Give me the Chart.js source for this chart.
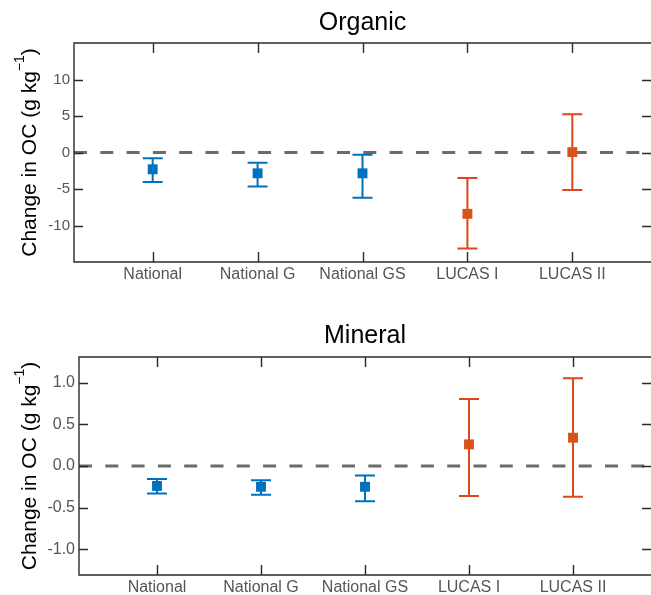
<!DOCTYPE html>
<html>
<head>
<meta charset="utf-8">
<script src="https://cdn.jsdelivr.net/npm/chart.js"></script>
<style>
  html, body { margin: 0; background: #fff; overflow: hidden; }
  canvas { display: block; }
</style>
</head>
<body>
<canvas id="organic" width="658" height="297"></canvas>
<canvas id="mineral" width="658" height="298"></canvas>
<script>
const categories = ['National', 'National G', 'National GS', 'LUCAS I', 'LUCAS II'];

const organicMean = [-2.3, -2.85, -2.85, -8.4, 0.05];
const organicLow = [-4.05, -4.65, -6.2, -13.15, -5.15];
const organicHigh = [-0.8, -1.4, -0.3, -3.5, 5.25];
const organicTicks = [-10, -5, 0, 5, 10];

const mineralMean = [-0.24, -0.25, -0.25, 0.26, 0.34];
const mineralLow = [-0.33, -0.345, -0.425, -0.36, -0.37];
const mineralHigh = [-0.155, -0.17, -0.115, 0.805, 1.055];
const mineralTicks = [-1.0, -0.5, 0.0, 0.5, 1.0];

const blue = '#0072BD';
const orange = '#D95319';
const markerColors = [blue, blue, blue, orange, orange];
const barColors = [blue, blue, blue, '#E0461C', '#E0461C'];
const font = '"Liberation Sans", Arial, sans-serif';

// error bars, zero line, box, inward ticks and titles
function decor(low, high, title, titleBase) {
    return {
        id: 'decor',
        beforeDatasetsDraw(chart) {
            const {ctx, chartArea: a, scales: {x, y}} = chart;
            ctx.save();
            ctx.beginPath();
            ctx.rect(a.left, a.top, a.right - a.left, a.bottom - a.top);
            ctx.clip();
            const y0 = y.getPixelForValue(0);
            ctx.setLineDash([13, 13.3]);
            ctx.strokeStyle = '#6b6b6b';
            ctx.lineWidth = 3;
            ctx.beginPath();
            ctx.moveTo(a.left, y0);
            ctx.lineTo(a.right, y0);
            ctx.stroke();
            ctx.setLineDash([]);
            low.forEach((lo, i) => {
                const px = x.getPixelForValue(i + 1);
                const pLo = y.getPixelForValue(lo);
                const pHi = y.getPixelForValue(high[i]);
                ctx.strokeStyle = barColors[i];
                ctx.lineWidth = 2;
                ctx.beginPath();
                ctx.moveTo(px, pLo); ctx.lineTo(px, pHi);
                ctx.moveTo(px - 10, pLo); ctx.lineTo(px + 10, pLo);
                ctx.moveTo(px - 10, pHi); ctx.lineTo(px + 10, pHi);
                ctx.stroke();
            });
            ctx.restore();
        },
        afterDraw(chart) {
            const {ctx, chartArea: a, scales: {x, y}} = chart;
            ctx.save();
            ctx.strokeStyle = '#2b2b2b';
            ctx.lineWidth = 1.4;
            // left, top, bottom sides; the right one falls just outside the window
            ctx.beginPath();
            ctx.moveTo(a.right + 2, a.top);
            ctx.lineTo(a.left, a.top);
            ctx.lineTo(a.left, a.bottom);
            ctx.lineTo(a.right + 2, a.bottom);
            ctx.stroke();
            ctx.beginPath();
            y.ticks.forEach(t => {
                const py = Math.round(y.getPixelForValue(t.value)) + 0.5;
                ctx.moveTo(a.left, py); ctx.lineTo(a.left + 9, py);
                ctx.moveTo(a.right - 9, py); ctx.lineTo(a.right, py);
            });
            x.ticks.forEach(t => {
                const px = Math.round(x.getPixelForValue(t.value)) + 0.5;
                ctx.moveTo(px, a.bottom); ctx.lineTo(px, a.bottom - 10);
                ctx.moveTo(px, a.top); ctx.lineTo(px, a.top + 10);
            });
            ctx.stroke();

            ctx.fillStyle = '#000';
            ctx.font = '25px ' + font;
            ctx.textAlign = 'center';
            ctx.textBaseline = 'alphabetic';
            ctx.fillText(title, (a.left + a.right) / 2, titleBase);

            // y axis title with superscript
            ctx.translate(36, (a.top + a.bottom) / 2);
            ctx.rotate(-Math.PI / 2);
            const main = 'Change in OC (g kg', sup = '\u22121', end = ')';
            ctx.font = '21px ' + font;
            const mw = ctx.measureText(main).width;
            const ew = ctx.measureText(end).width;
            ctx.font = '14px ' + font;
            const sw = ctx.measureText(sup).width;
            let cx = -(mw + sw + ew) / 2;
            ctx.textAlign = 'left';
            ctx.font = '21px ' + font;
            ctx.fillText(main, cx, 0);
            cx += mw;
            ctx.font = '14px ' + font;
            ctx.fillText(sup, cx, -12);
            cx += sw;
            ctx.font = '21px ' + font;
            ctx.fillText(end, cx, 0);
            ctx.restore();
        }
    };
}

function makeChart(id, mean, low, high, yTicks, yMax, opts) {
    const points = mean.map((v, i) => ({x: i + 1, y: v}));
    new Chart(document.getElementById(id), {
        type: 'scatter',
        data: {
            datasets: [{
                data: points,
                pointStyle: 'rect',
                pointRadius: 7,
                pointHoverRadius: 7,
                backgroundColor: markerColors,
                borderColor: markerColors,
                borderWidth: 0
            }]
        },
        options: {
            responsive: false,
            animation: false,
            events: [],
            layout: {padding: {top: opts.top, left: 0, right: 0, bottom: 0}},
            plugins: {legend: {display: false}, tooltip: {enabled: false}},
            scales: {
                x: {
                    type: 'linear',
                    min: 0.25,
                    max: 5.75,
                    afterBuildTicks: s => { s.ticks = categories.map((c, i) => ({value: i + 1})); },
                    afterFit: s => { s.height = opts.xHeight; },
                    grid: {display: false, drawTicks: false},
                    border: {display: false},
                    ticks: {
                        callback: v => categories[v - 1],
                        color: '#555',
                        padding: 3,
                        maxRotation: 0,
                        autoSkip: false,
                        font: {family: font, size: 16}
                    }
                },
                y: {
                    min: -yMax,
                    max: yMax,
                    afterBuildTicks: s => { s.ticks = yTicks.map(v => ({value: v})); },
                    afterFit: s => { s.width = opts.yWidth; },
                    grid: {display: false, drawTicks: false},
                    border: {display: false},
                    ticks: {
                        callback: v => opts.decimals ? v.toFixed(1) : String(v),
                        color: '#555',
                        padding: 4,
                        font: {family: font, size: opts.yFont}
                    }
                }
            }
        },
        plugins: [decor(low, high, opts.title, opts.titleBase)]
    });
}

makeChart('organic', organicMean, organicLow, organicHigh, organicTicks, 15,
    {title: 'Organic', titleBase: 30, top: 43, xHeight: 35, yWidth: 74, yFont: 15, decimals: false});
makeChart('mineral', mineralMean, mineralLow, mineralHigh, mineralTicks, 1.31,
    {title: 'Mineral', titleBase: 46, top: 60, xHeight: 20, yWidth: 79, yFont: 16, decimals: true});
</script>
</body>
</html>
